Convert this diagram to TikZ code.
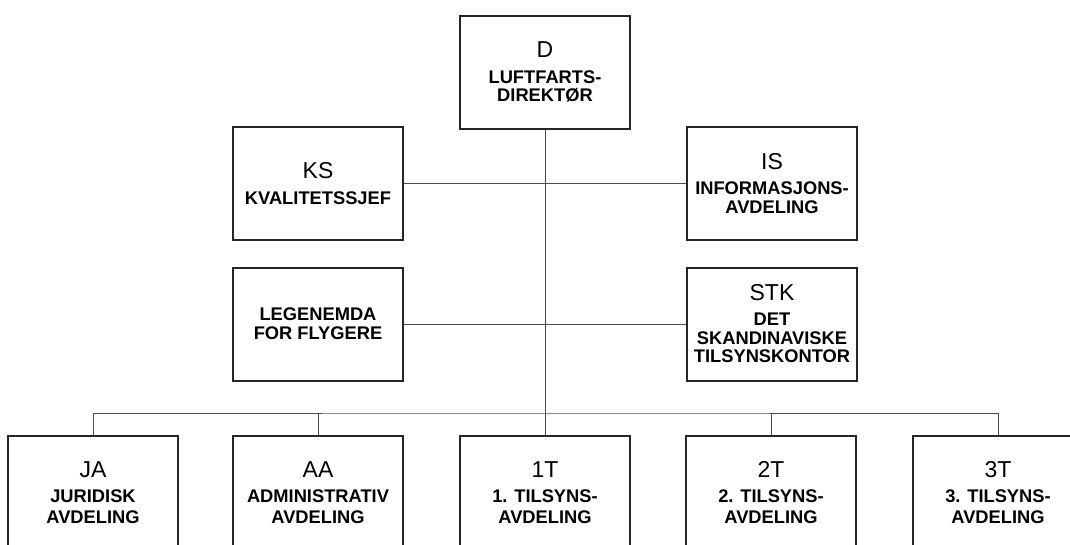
\documentclass[tikz,border=0pt]{standalone}
\usepackage{fontspec}
\setmainfont{Liberation Sans}
\usetikzlibrary{positioning}
\newcommand{\deptfont}{\fontsize{18.3}{18.7}\selectfont\bfseries}
\newcommand{\codefont}{\fontsize{23}{24}\selectfont\mdseries}
\tikzset{
    unit/.style={draw=black!85, line width=2pt, fill=white,
        minimum width=170pt, minimum height=113pt, inner sep=0pt,
        align=center, font=\deptfont},
    link/.style={draw=black!70, line width=1pt}
}

\begin{document}
\begin{tikzpicture}[x=1pt,y=-1pt]
	\useasboundingbox (0,0) rectangle (1070,544);
	\clip (0,0) rectangle (1070,544);
	% top
	\node[unit] (D) at (545,72) {{\codefont D}\\[7pt]LUFTFARTS-\\DIREKTØR};
	% staff units
	\node[unit] (KS) at (318,183.5) {{\codefont KS}\\[7pt]KVALITETSSJEF};
	\node[unit] (IS) at (772,183.5) {{\codefont IS}\\[7pt]INFORMASJONS-\\AVDELING};
	\node[unit] (LF) at (318,324) {LEGENEMDA\\FOR FLYGERE};
	\node[unit] (STK) at (772,324) {{\codefont STK}\\[6pt]DET\\SKANDINAVISKE\\TILSYNSKONTOR};
	% departments
	\node[unit] (JA) at (93,492.5) {{\codefont JA}\\[7pt]JURIDISK\\[2pt]AVDELING};
	\node[unit] (AA) at (318,492.5) {{\codefont AA}\\[7pt]ADMINISTRATIV\\[2pt]AVDELING};
	\node[unit] (1T) at (545,492.5) {{\codefont 1T}\\[7pt]1. TILSYNS-\\[2pt]AVDELING};
	\node[unit] (2T) at (771,492.5) {{\codefont 2T}\\[7pt]2. TILSYNS-\\[2pt]AVDELING};
	\node[unit] (3T) at (998,492.5) {{\codefont 3T}\\[7pt]3. TILSYNS-\\[2pt]AVDELING};
	% lines
	\coordinate (bus) at (545,413);
	\draw[link] (D.south) -- (1T.north);
	\draw[link] (KS.east) -- (IS.west);
	\draw[link] (LF.east) -- (STK.west);
	\draw[link] (JA.north) |- (bus) -| (3T.north);
	\draw[link] (AA.north) -- (AA.north |- bus);
	\draw[link] (2T.north) -- (2T.north |- bus);
\end{tikzpicture}
\end{document}
